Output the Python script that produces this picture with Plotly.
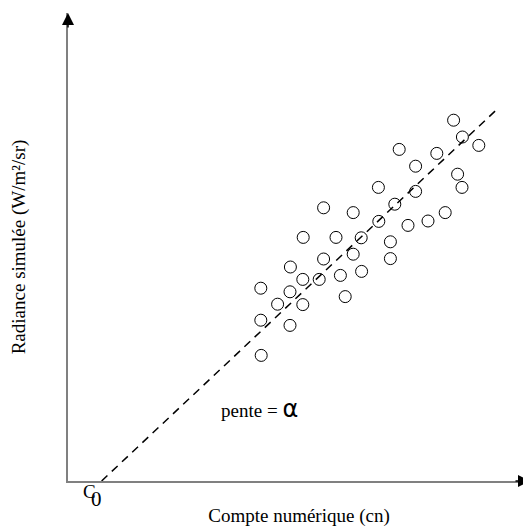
import plotly.graph_objects as go

# Data (arbitrary units): compte numérique vs radiance simulée
cn = [96.4, 98.6, 102.7, 82.8, 92.2, 86.9, 97.4, 98.5, 77.6, 86.9,
      63.9, 71.3, 81.7, 94.3, 90.0, 85.0, 77.7, 58.8, 67.0, 73.3,
      80.6, 71.3, 63.9, 80.6, 55.6, 73.4, 58.7, 62.8, 68.1, 48.2,
      55.5, 52.4, 58.7, 69.3, 48.2, 55.5, 48.3]
radiance = [90.2, 86.0, 83.9, 82.9, 81.9, 78.7, 76.7, 73.4, 73.4, 72.4,
            68.3, 67.1, 69.2, 67.1, 65.0, 63.9, 64.9, 60.9, 60.9, 60.8,
            59.8, 56.7, 55.5, 55.6, 53.5, 52.4, 50.4, 50.4, 51.4, 48.2,
            47.3, 44.2, 44.1, 46.1, 40.2, 38.9, 31.4]

c0 = 8.4          # offset C0
alpha = 0.94      # pente
fit_x = [c0, 107.5]
fit_y = [alpha * (x - c0) for x in fit_x]

x_max = 115.5
y_max = 117.0

SERIF = "Liberation Serif"

fig = go.Figure()
fig.add_trace(go.Scatter(
    x=fit_x, y=fit_y, mode="lines",
    line=dict(color="black", width=1.5, dash="8px,6px"),
    hoverinfo="skip"))
fig.add_trace(go.Scatter(
    x=cn, y=radiance, mode="markers",
    marker=dict(symbol="circle-open", size=12, color="black",
                line=dict(width=1, color="black"))))

axis_common = dict(showgrid=False, zeroline=False, showticklabels=False,
                   ticks="", showline=True, linecolor="#808080", linewidth=2)

# the page body has an 8px margin, so the figure is sized to fit the window
fig.update_layout(
    width=523, height=519,
    margin=dict(l=60, r=1, t=5, b=46),
    plot_bgcolor="white", paper_bgcolor="white",
    showlegend=False,
    xaxis=dict(range=[0, x_max], **axis_common,
               title=dict(text="Compte numérique (cn)", standoff=29,
                          font=dict(family=SERIF, size=19, color="black"))),
    yaxis=dict(range=[0, y_max], **axis_common,
               title=dict(text="Radiance simulée (W/m²/sr)", standoff=35,
                          font=dict(family=SERIF, size=19, color="black"))),
)

# arrowheads at the ends of the axes
fig.add_annotation(x=0, y=y_max, ax=0, ay=y_max - 4, xref="x", yref="y",
                   axref="x", ayref="y", text="", showarrow=True,
                   arrowhead=2, arrowsize=1.6, arrowwidth=1.5, arrowcolor="black")
fig.add_annotation(x=x_max, y=0, ax=x_max - 4, ay=0, xref="x", yref="y",
                   axref="x", ayref="y", text="", showarrow=True,
                   arrowhead=2, arrowsize=1.6, arrowwidth=1.5, arrowcolor="black")

# C0 label (below the x axis)
fig.add_annotation(x=5.25, y=0, xref="x", yref="paper", yshift=-10.5,
                   yanchor="middle", text="C", showarrow=False,
                   font=dict(family=SERIF, size=19, color="black"))
fig.add_annotation(x=7.2, y=0, xref="x", yref="paper", yshift=-17.5,
                   yanchor="middle", text="0", showarrow=False,
                   font=dict(family=SERIF, size=21, color="black"))

# slope label
fig.add_annotation(x=47.8, y=17.9, xref="x", yref="y",
                   text="pente = <span style='font-family:DejaVu Sans;font-size:24px'>α</span>",
                   showarrow=False,
                   font=dict(family=SERIF, size=19, color="black"))

fig.write_html("out.html")
